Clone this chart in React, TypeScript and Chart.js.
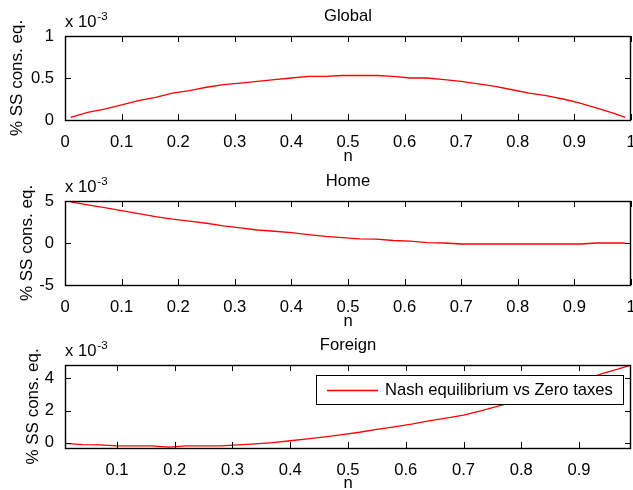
import React, { useEffect, useRef } from 'react';
import { Chart, registerables } from 'chart.js';

Chart.register(...registerables);

// ---------- data (values in units of 1e-3) ----------
const nValues = [
  0.01, 0.04, 0.07, 0.1, 0.13, 0.16, 0.19, 0.22, 0.25, 0.28, 0.31, 0.34,
  0.37, 0.4, 0.43, 0.46, 0.49, 0.52, 0.55, 0.58, 0.61, 0.64, 0.67, 0.7,
  0.73, 0.76, 0.79, 0.82, 0.85, 0.88, 0.91, 0.94, 0.97, 0.99,
];
const globalValues = [
  0.03, 0.09, 0.13, 0.18, 0.23, 0.27, 0.32, 0.35, 0.39, 0.42, 0.44, 0.46,
  0.48, 0.5, 0.52, 0.52, 0.53, 0.53, 0.53, 0.52, 0.5, 0.5, 0.48, 0.46,
  0.43, 0.4, 0.36, 0.32, 0.29, 0.25, 0.2, 0.14, 0.08, 0.03,
];
const homeValues = [
  4.9, 4.55, 4.2, 3.85, 3.5, 3.15, 2.85, 2.6, 2.35, 2.05, 1.8, 1.55,
  1.4, 1.23, 1.0, 0.8, 0.65, 0.5, 0.45, 0.3, 0.22, 0.05, 0.0, -0.12,
  -0.12, -0.12, -0.12, -0.12, -0.12, -0.12, -0.12, 0.0, 0.0, 0.0,
];
const foreignValues = [
  -0.04, -0.12, -0.14, -0.2, -0.2, -0.2, -0.28, -0.2, -0.2, -0.2, -0.14, -0.07,
  0.0, 0.12, 0.24, 0.36, 0.5, 0.65, 0.83, 0.98, 1.15, 1.35, 1.53, 1.72,
  1.98, 2.28, 2.55, 2.85, 3.2, 3.55, 3.9, 4.3, 4.6, 4.83,
];

const xTicksFull = [0, 0.1, 0.2, 0.3, 0.4, 0.5, 0.6, 0.7, 0.8, 0.9, 1];
const xTicksForeign = [0.1, 0.2, 0.3, 0.4, 0.5, 0.6, 0.7, 0.8, 0.9];
const yTicksGlobal = [0, 0.5, 1];
const yTicksHome = [-5, 0, 5];
const yTicksForeign = [0, 2, 4];

const panelTitles = ['Global', 'Home', 'Foreign'];
const yAxisTitle = '% SS cons. eq.';
const xAxisTitle = 'n';
const multiplierBase = 'x 10';
const multiplierExp = '-3';
const seriesLabel = 'Nash equilibrium vs Zero taxes';

const FONT = "'Liberation Sans', Arial, Helvetica, sans-serif";
const FS = 16.6;
const YT_FS = 17;
const RED = '#ff0000';

type Panel = {
  title: string;
  values: number[];
  xMin: number;
  xMax: number;
  xTicks: number[];
  yMin: number;
  yMax: number;
  yTicks: number[];
  canvasTop: number;
  canvasHeight: number;
  areaTop: number;
  areaBottom: number;
  titleCenter: number;
  yTitleCenter: number;
  nOffset: number;
  legend: boolean;
};

const panels: Panel[] = [
  {
    title: panelTitles[0], values: globalValues,
    xMin: 0, xMax: 1, xTicks: xTicksFull,
    yMin: 0, yMax: 1, yTicks: yTicksGlobal,
    canvasTop: 0, canvasHeight: 163, areaTop: 36, areaBottom: 120,
    titleCenter: 16.3, yTitleCenter: 17, nOffset: 7, legend: false,
  },
  {
    title: panelTitles[1], values: homeValues,
    xMin: 0, xMax: 1, xTicks: xTicksFull,
    yMin: -5, yMax: 5, yTicks: yTicksHome,
    canvasTop: 163, canvasHeight: 164, areaTop: 38, areaBottom: 122,
    titleCenter: 18, yTitleCenter: 27, nOffset: 6, legend: false,
  },
  {
    title: panelTitles[2], values: foreignValues,
    xMin: 0.01, xMax: 0.99, xTicks: xTicksForeign,
    yMin: -0.33, yMax: 4.83, yTicks: yTicksForeign,
    canvasTop: 327, canvasHeight: 163, areaTop: 38, areaBottom: 121,
    titleCenter: 18.5, yTitleCenter: 33.5, nOffset: 6.5, legend: true,
  },
];

const TICK_LEN = 6;

function makeFramePlugin(showLegend: boolean) {
  return {
    id: 'matlabFrame',
    afterDraw(chart: any) {
      const ctx: CanvasRenderingContext2D = chart.ctx;
      const a = chart.chartArea;
      const xs = chart.scales.x;
      const ys = chart.scales.y;
      ctx.save();
      ctx.strokeStyle = '#000';
      ctx.lineWidth = 1;
      // inner ticks
      ctx.beginPath();
      xs.ticks.forEach((t: any) => {
        const px = Math.round(xs.getPixelForValue(t.value)) + 0.5;
        ctx.moveTo(px, a.bottom);
        ctx.lineTo(px, a.bottom - TICK_LEN);
        ctx.moveTo(px, a.top);
        ctx.lineTo(px, a.top + TICK_LEN);
      });
      ys.ticks.forEach((t: any) => {
        const py = Math.round(ys.getPixelForValue(t.value)) + 0.5;
        ctx.moveTo(a.left, py);
        ctx.lineTo(a.left + TICK_LEN, py);
        ctx.moveTo(a.right, py);
        ctx.lineTo(a.right - TICK_LEN, py);
      });
      ctx.stroke();
      // frame
      ctx.lineWidth = 1.4;
      ctx.strokeRect(a.left + 0.5, a.top + 0.5, a.right - a.left - 1, a.bottom - a.top);
      ctx.lineWidth = 1;
      // multiplier
      ctx.fillStyle = '#000';
      ctx.textBaseline = 'alphabetic';
      ctx.textAlign = 'left';
      ctx.font = `${FS}px ${FONT}`;
      ctx.fillText(multiplierBase, a.left, a.top - 9);
      const w = ctx.measureText(multiplierBase).width;
      ctx.font = `11.5px ${FONT}`;
      ctx.fillText(multiplierExp, a.left + w + 1, a.top - 16);
      // legend
      if (showLegend) {
        const ds = chart.data.datasets[0];
        ctx.font = `${FS}px ${FONT}`;
        const tw = ctx.measureText(ds.label).width;
        const bw = Math.round(11 + 51 + 7 + tw + 10);
        const bh = 29;
        const bx = Math.round(a.right - 8 - bw);
        const by = a.top + 10;
        ctx.fillStyle = '#fff';
        ctx.fillRect(bx, by, bw, bh);
        ctx.strokeStyle = '#000';
        ctx.strokeRect(bx + 0.5, by + 0.5, bw, bh);
        const cy = by + bh / 2;
        ctx.strokeStyle = ds.borderColor;
        ctx.lineWidth = 1.3;
        ctx.beginPath();
        ctx.moveTo(bx + 11, Math.round(cy) + 0.5);
        ctx.lineTo(bx + 62, Math.round(cy) + 0.5);
        ctx.stroke();
        ctx.fillStyle = '#000';
        ctx.textBaseline = 'middle';
        ctx.fillText(ds.label, bx + 69, cy + 0.5);
      }
      ctx.restore();
    },
  };
}

function PanelChart({ p }: { p: Panel }) {
  const ref = useRef<HTMLCanvasElement | null>(null);
  useEffect(() => {
    if (!ref.current) return;
    const lh = FS * 1.2;
    const ylh = YT_FS * 1.2;
    const chart = new Chart(ref.current, {
      type: 'line',
      data: {
        datasets: [
          {
            label: seriesLabel,
            data: nValues.map((n, i) => ({ x: n, y: p.values[i] })),
            borderColor: RED,
            borderWidth: 1.3,
            pointRadius: 0,
            tension: 0,
            fill: false,
          },
        ],
      },
      options: {
        animation: false,
        responsive: false,
        devicePixelRatio: 1,
        layout: { padding: { left: 0, right: 2, top: 0, bottom: 0 } },
        plugins: {
          legend: { display: false },
          tooltip: { enabled: false },
          title: {
            display: true,
            text: p.title,
            fullSize: false,
            color: '#000',
            font: { family: FONT, size: FS, weight: 'normal', lineHeight: 1.2 },
            padding: { top: p.titleCenter - lh / 2, bottom: p.areaTop - (p.titleCenter - lh / 2) - lh },
          },
        },
        scales: {
          x: {
            type: 'linear',
            min: p.xMin,
            max: p.xMax,
            grid: { display: false },
            border: { display: false },
            ticks: {
              color: '#000',
              font: { family: FONT, size: FS, lineHeight: 1.2 },
              padding: 4.5,
              maxRotation: 0,
              autoSkip: false,
              callback: (v: any) => String(v),
            },
            afterBuildTicks: (s: any) => {
              s.ticks = p.xTicks.map((v) => ({ value: v }));
            },
            afterFit: (s: any) => {
              s.height = p.canvasHeight - p.areaBottom;
              s.paddingLeft = 0;
              s.paddingRight = 0;
            },
            title: {
              display: true,
              text: xAxisTitle,
              color: '#000',
              font: { family: FONT, size: FS, lineHeight: 0.75 },
              padding: { top: 0, bottom: p.nOffset - FS * 0.375 },
            },
          },
          y: {
            type: 'linear',
            min: p.yMin,
            max: p.yMax,
            grid: { display: false },
            border: { display: false },
            ticks: {
              color: '#000',
              font: { family: FONT, size: FS, lineHeight: 1.2 },
              padding: 3,
              autoSkip: false,
              callback: (v: any) => String(v),
            },
            afterBuildTicks: (s: any) => {
              s.ticks = p.yTicks.map((v) => ({ value: v }));
            },
            afterFit: (s: any) => {
              s.width = 65;
              s.paddingTop = 0;
              s.paddingBottom = 0;
            },
            title: {
              display: true,
              text: yAxisTitle,
              color: '#000',
              font: { family: FONT, size: YT_FS, lineHeight: 1.2 },
              padding: { top: p.yTitleCenter - ylh / 2, bottom: 0 },
            },
          },
        },
      },
      plugins: [makeFramePlugin(p.legend)],
    } as any);
    return () => chart.destroy();
  }, [p]);
  return (
    <div style={{ position: 'absolute', left: 0, top: p.canvasTop, width: 633, height: p.canvasHeight }}>
      <canvas ref={ref} width={633} height={p.canvasHeight} style={{ display: 'block', width: 633, height: p.canvasHeight }} />
    </div>
  );
}

export default function App() {
  return (
    <div style={{ position: 'fixed', left: 0, top: 0, width: 633, height: 490, background: '#fff', overflow: 'hidden' }}>
      {panels.map((p) => (
        <PanelChart key={p.title} p={p} />
      ))}
    </div>
  );
}
